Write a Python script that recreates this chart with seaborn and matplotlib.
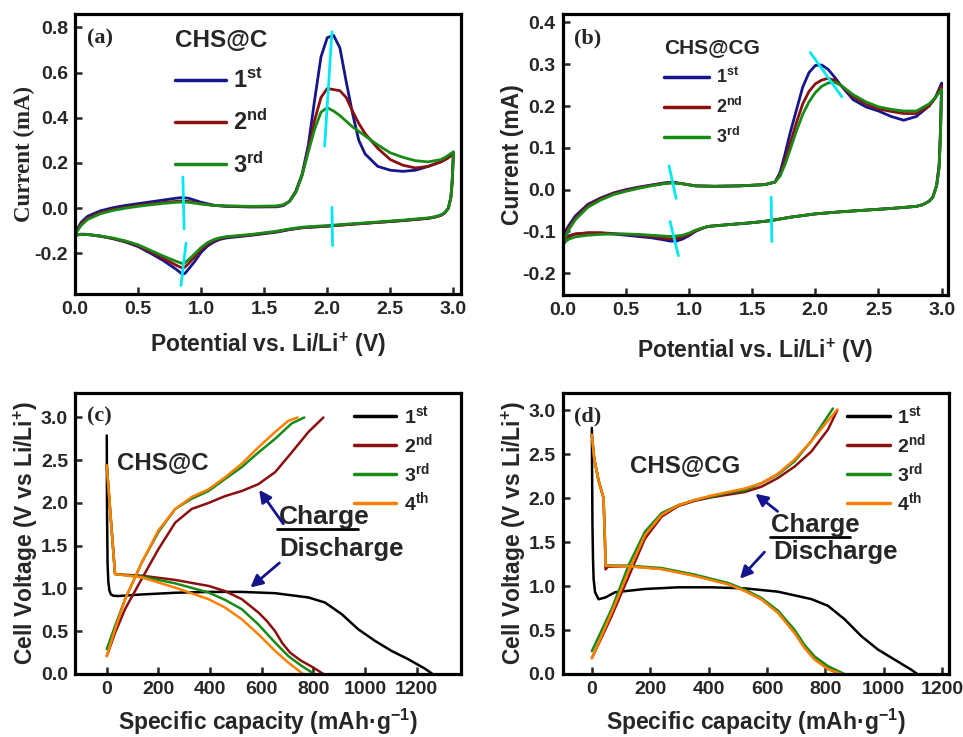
import numpy as np
import pandas as pd
import matplotlib
matplotlib.use("Agg")
import matplotlib.pyplot as plt
from matplotlib.lines import Line2D
import seaborn as sns

# ---------------- data: panel (a) CV, CHS@C ----------------
CYCLES_CV = ["1st", "2nd", "3rd"]
E_A_AN = [0.0, 0.02, 0.05, 0.1, 0.2, 0.3, 0.4, 0.5, 0.6, 0.7, 0.8, 0.85, 0.9, 1.0, 1.1, 1.2, 1.4, 1.6, 1.65,
          1.7, 1.75, 1.8, 1.85, 1.9, 1.95, 2.0, 2.05, 2.1, 2.15, 2.2, 2.25, 2.3, 2.4, 2.5, 2.6, 2.7, 2.8, 2.9, 2.95, 3.0]
I_A1_AN = [-0.12, -0.09, -0.062, -0.036, -0.012, 0.002, 0.012, 0.02, 0.028, 0.036, 0.044, 0.047, 0.044, 0.026,
           0.013, 0.008, 0.005, 0.006, 0.011, 0.03, 0.075, 0.15, 0.28, 0.48, 0.67, 0.755, 0.765, 0.71, 0.56,
           0.42, 0.30, 0.24, 0.185, 0.168, 0.163, 0.168, 0.185, 0.205, 0.22, 0.245]
I_A2_AN = [-0.12, -0.095, -0.068, -0.045, -0.02, -0.006, 0.004, 0.012, 0.019, 0.025, 0.03, 0.032, 0.03, 0.02,
           0.012, 0.009, 0.007, 0.008, 0.013, 0.03, 0.07, 0.145, 0.26, 0.39, 0.49, 0.53, 0.525, 0.52, 0.49,
           0.43, 0.375, 0.33, 0.265, 0.215, 0.19, 0.178, 0.185, 0.205, 0.22, 0.24]
I_A3_AN = [-0.12, -0.1, -0.075, -0.05, -0.025, -0.01, 0.0, 0.008, 0.015, 0.021, 0.026, 0.027, 0.026, 0.018,
           0.012, 0.01, 0.008, 0.01, 0.015, 0.03, 0.07, 0.145, 0.25, 0.35, 0.425, 0.445, 0.43, 0.41, 0.385,
           0.36, 0.34, 0.32, 0.28, 0.245, 0.225, 0.21, 0.205, 0.215, 0.23, 0.25]
E_A_CA = [2.99, 2.98, 2.96, 2.93, 2.9, 2.85, 2.8, 2.6, 2.4, 2.2, 2.0, 1.8, 1.7, 1.6, 1.4, 1.2, 1.15, 1.1, 1.05,
          1.0, 0.95, 0.9, 0.87, 0.85, 0.8, 0.7, 0.6, 0.5, 0.4, 0.3, 0.2, 0.1, 0.05, 0.0]
I_A1_CA = [0.12, 0.05, 0.0, -0.022, -0.032, -0.04, -0.045, -0.055, -0.063, -0.071, -0.08, -0.087, -0.095,
           -0.106, -0.12, -0.132, -0.138, -0.15, -0.168, -0.195, -0.235, -0.27, -0.29, -0.292, -0.27, -0.232,
           -0.2, -0.17, -0.15, -0.135, -0.124, -0.116, -0.115, -0.12]
I_A2_CA = [0.11, 0.045, 0.0, -0.022, -0.032, -0.04, -0.045, -0.055, -0.063, -0.071, -0.079, -0.086, -0.094,
           -0.104, -0.118, -0.128, -0.134, -0.144, -0.16, -0.183, -0.215, -0.245, -0.262, -0.265, -0.252,
           -0.222, -0.193, -0.166, -0.148, -0.134, -0.124, -0.117, -0.116, -0.12]
I_A3_CA = [0.12, 0.05, 0.0, -0.02, -0.03, -0.038, -0.043, -0.053, -0.061, -0.069, -0.077, -0.084, -0.092,
           -0.102, -0.116, -0.126, -0.131, -0.139, -0.153, -0.174, -0.202, -0.228, -0.242, -0.245, -0.235,
           -0.212, -0.187, -0.162, -0.145, -0.132, -0.123, -0.117, -0.116, -0.12]

# ---------------- data: panel (b) CV, CHS@CG ----------------
E_B_AN = [0.0, 0.02, 0.05, 0.1, 0.2, 0.3, 0.4, 0.5, 0.6, 0.7, 0.8, 0.87, 0.95, 1.05, 1.2, 1.4, 1.6, 1.68, 1.72,
          1.76, 1.8, 1.85, 1.9, 1.95, 2.0, 2.05, 2.1, 2.15, 2.2, 2.3, 2.4, 2.5, 2.6, 2.7, 2.8, 2.9, 2.95, 3.0]
I_B1_AN = [-0.125, -0.1, -0.085, -0.063, -0.035, -0.02, -0.008, 0.0, 0.006, 0.011, 0.016, 0.018, 0.014, 0.009,
           0.008, 0.009, 0.012, 0.018, 0.04, 0.085, 0.135, 0.19, 0.245, 0.28, 0.297, 0.298, 0.288, 0.27, 0.25,
           0.215, 0.198, 0.188, 0.175, 0.166, 0.175, 0.2, 0.22, 0.255]
I_B2_AN = [-0.13, -0.108, -0.09, -0.068, -0.038, -0.022, -0.01, -0.002, 0.005, 0.01, 0.015, 0.017, 0.014,
           0.009, 0.008, 0.009, 0.012, 0.018, 0.035, 0.07, 0.11, 0.16, 0.205, 0.235, 0.253, 0.262, 0.266, 0.262,
           0.25, 0.222, 0.205, 0.193, 0.187, 0.182, 0.182, 0.2, 0.22, 0.248]
I_B3_AN = [-0.135, -0.115, -0.095, -0.072, -0.042, -0.025, -0.012, -0.004, 0.003, 0.009, 0.014, 0.016, 0.014,
           0.009, 0.008, 0.009, 0.012, 0.018, 0.032, 0.06, 0.095, 0.14, 0.18, 0.21, 0.232, 0.247, 0.255, 0.257,
           0.25, 0.227, 0.21, 0.198, 0.192, 0.188, 0.188, 0.205, 0.22, 0.24]
E_B_CA = [2.99, 2.98, 2.96, 2.93, 2.9, 2.85, 2.8, 2.6, 2.4, 2.2, 2.0, 1.8, 1.65, 1.5, 1.3, 1.15, 1.1, 1.05, 1.0,
          0.95, 0.9, 0.85, 0.8, 0.7, 0.6, 0.5, 0.4, 0.3, 0.2, 0.1, 0.05, 0.02, 0.0]
I_B1_CA = [0.14, 0.06, 0.01, -0.018, -0.028, -0.036, -0.04, -0.045, -0.049, -0.053, -0.058, -0.066, -0.074,
           -0.079, -0.084, -0.088, -0.093, -0.1, -0.11, -0.118, -0.123, -0.123, -0.12, -0.115, -0.112, -0.109,
           -0.106, -0.104, -0.104, -0.106, -0.11, -0.118, -0.125]
I_B2_CA = [0.13, 0.055, 0.01, -0.018, -0.028, -0.036, -0.04, -0.045, -0.049, -0.053, -0.058, -0.066, -0.074,
           -0.079, -0.084, -0.088, -0.093, -0.099, -0.107, -0.113, -0.117, -0.118, -0.116, -0.112, -0.109,
           -0.107, -0.105, -0.103, -0.103, -0.106, -0.112, -0.12, -0.13]
I_B3_CA = [0.12, 0.05, 0.008, -0.018, -0.028, -0.036, -0.04, -0.045, -0.049, -0.053, -0.058, -0.066, -0.074,
           -0.079, -0.084, -0.088, -0.092, -0.097, -0.104, -0.109, -0.111, -0.112, -0.111, -0.109, -0.107,
           -0.106, -0.106, -0.107, -0.109, -0.113, -0.118, -0.125, -0.135]

# ---------------- data: panel (c) GCD, CHS@C ----------------
CYCLES_GCD = ["1st", "2nd", "3rd", "4th"]
Q_C1_DIS = [0, 1, 3, 6, 10, 16, 26, 45, 135, 265, 394, 523, 652, 781, 845, 910, 974, 1039, 1103, 1168, 1232, 1262]
V_C1_DIS = [2.79, 1.9, 1.3, 1.08, 0.98, 0.93, 0.915, 0.912, 0.93, 0.95, 0.96, 0.96, 0.945, 0.895, 0.836, 0.70,
            0.523, 0.387, 0.27, 0.172, 0.063, 0.0]
Q_C2_DIS = [0, 16, 32, 40, 135, 265, 394, 458, 523, 587, 620, 652, 680, 710, 750, 800, 839]
V_C2_DIS = [2.44, 1.8, 1.17, 1.165, 1.15, 1.10, 1.03, 0.97, 0.875, 0.72, 0.62, 0.50, 0.36, 0.25, 0.16, 0.075, 0.0]
Q_C3_DIS = [0, 16, 32, 40, 135, 265, 394, 458, 523, 587, 652, 703, 755, 804]
V_C3_DIS = [2.44, 1.8, 1.17, 1.165, 1.14, 1.06, 0.953, 0.867, 0.758, 0.58, 0.367, 0.21, 0.094, 0.0]
Q_C4_DIS = [0, 16, 32, 40, 135, 265, 394, 458, 523, 587, 652, 703, 760]
V_C4_DIS = [2.44, 1.8, 1.17, 1.165, 1.13, 1.01, 0.875, 0.777, 0.64, 0.465, 0.27, 0.133, 0.0]
Q_C2_CHG = [0, 32, 71, 135, 200, 265, 329, 394, 458, 523, 587, 652, 716, 781, 839]
V_C2_CHG = [0.21, 0.48, 0.76, 1.11, 1.46, 1.77, 1.93, 2.0, 2.08, 2.14, 2.22, 2.36, 2.59, 2.83, 3.0]
Q_C3_CHG = [0, 32, 71, 135, 200, 265, 329, 394, 458, 523, 587, 652, 716, 765]
V_C3_CHG = [0.29, 0.56, 0.875, 1.30, 1.66, 1.93, 2.05, 2.14, 2.28, 2.42, 2.59, 2.75, 2.93, 3.0]
Q_C4_CHG = [0, 32, 71, 135, 200, 265, 329, 394, 458, 523, 587, 652, 703, 739]
V_C4_CHG = [0.21, 0.52, 0.875, 1.30, 1.68, 1.93, 2.07, 2.16, 2.30, 2.46, 2.65, 2.83, 2.96, 3.0]

# ---------------- data: panel (d) GCD, CHS@CG ----------------
Q_D1_DIS = [0, 1, 2, 4, 6, 11, 23, 46, 80, 182, 296, 410, 524, 638, 752, 809, 866, 923, 980, 1037, 1094, 1115]
V_D1_DIS = [2.8, 2.2, 1.69, 1.3, 1.08, 0.93, 0.85, 0.87, 0.93, 0.967, 0.986, 0.986, 0.974, 0.936, 0.852, 0.776,
            0.623, 0.432, 0.279, 0.164, 0.05, 0.0]
Q_D2_DIS = [0, 8, 23, 40, 45, 47, 55, 125, 239, 353, 467, 524, 581, 638, 695, 729, 763, 809, 850]
V_D2_DIS = [2.72, 2.45, 2.2, 2.0, 1.5, 1.19, 1.22, 1.227, 1.196, 1.12, 1.024, 0.948, 0.852, 0.70, 0.47, 0.30,
            0.17, 0.06, 0.0]
Q_D3_DIS = [0, 8, 23, 40, 45, 47, 55, 125, 239, 353, 467, 524, 581, 638, 695, 729, 763, 809, 865]
V_D3_DIS = [2.72, 2.45, 2.2, 2.0, 1.5, 1.23, 1.235, 1.232, 1.205, 1.13, 1.035, 0.96, 0.865, 0.72, 0.50, 0.33,
            0.2, 0.09, 0.0]
Q_D4_DIS = [0, 8, 23, 40, 45, 47, 55, 125, 239, 353, 467, 524, 581, 638, 695, 729, 763, 809, 856]
V_D4_DIS = [2.72, 2.45, 2.2, 2.0, 1.5, 1.23, 1.23, 1.225, 1.193, 1.115, 1.02, 0.945, 0.848, 0.695, 0.465,
            0.295, 0.165, 0.055, 0.0]
Q_D2_CHG = [0, 68, 125, 182, 239, 296, 353, 410, 467, 524, 581, 638, 695, 752, 809, 841]
V_D2_CHG = [0.18, 0.66, 1.10, 1.54, 1.79, 1.91, 1.97, 2.01, 2.04, 2.07, 2.13, 2.23, 2.36, 2.53, 2.78, 3.0]
Q_D3_CHG = [0, 68, 125, 182, 239, 296, 353, 410, 467, 524, 581, 638, 695, 752, 798, 826]
V_D3_CHG = [0.26, 0.74, 1.23, 1.62, 1.83, 1.92, 1.98, 2.02, 2.06, 2.09, 2.17, 2.27, 2.42, 2.65, 2.88, 3.02]
Q_D4_CHG = [0, 68, 125, 182, 239, 296, 353, 410, 467, 524, 581, 638, 695, 752, 809, 841]
V_D4_CHG = [0.18, 0.70, 1.16, 1.58, 1.81, 1.92, 1.98, 2.03, 2.07, 2.11, 2.17, 2.28, 2.44, 2.65, 2.88, 3.01]

# annotation guide segments (cyan)
CYAN_A = [((0.855, 0.138), (0.865, -0.092)), ((0.88, -0.155), (0.84, -0.343)),
          ((2.037, 0.781), (1.979, 0.274)), ((2.037, 0.004), (2.042, -0.166))]
CYAN_B = [((0.842, 0.057), (0.898, -0.021)), ((0.85, -0.076), (0.916, -0.158)),
          ((1.65, -0.018), (1.656, -0.124)), ((1.96, 0.328), (2.21, 0.222))]

COL_CV = ["#15158c", "#8b1010", "#178a17"]
COL_GCD = ["#000000", "#8b1010", "#178a17", "#ff8000"]
CYAN = "#00e8f0"
NAVY = "#14148c"

# ---------------- style ----------------
sns.set_style("white")
plt.rcParams.update({
    "font.family": ["Liberation Sans", "DejaVu Sans"],
    "font.weight": "bold",
    "axes.labelweight": "bold",
    "axes.unicode_minus": False,
    "mathtext.fontset": "custom",
    "mathtext.rm": "Liberation Sans:bold",
    "mathtext.bf": "Liberation Sans:bold",
    "mathtext.it": "Liberation Sans:bold",
    "mathtext.default": "bf",
    "axes.edgecolor": "black",
    "axes.linewidth": 2.3,
})

fig = plt.figure(figsize=(9.63, 7.37), dpi=100)
ax_a = fig.add_axes([0.0779, 0.6011, 0.4008, 0.3800])
ax_b = fig.add_axes([0.5843, 0.5997, 0.4001, 0.3813])
ax_c = fig.add_axes([0.0779, 0.0855, 0.4008, 0.3817])
ax_d = fig.add_axes([0.5843, 0.0855, 0.4015, 0.3817])

SUP = {"1st": r"$1^{st}$", "2nd": r"$2^{nd}$", "3rd": r"$3^{rd}$", "4th": r"$4^{th}$"}


def style_axes(ax, xlim, ylim, xticks, yticks, xfmt, yfmt):
    ax.set_xlim(*xlim)
    ax.set_ylim(*ylim)
    ax.set_xticks(xticks)
    ax.set_yticks(yticks)
    ax.set_xticklabels([xfmt(v) for v in xticks])
    ax.set_yticklabels([yfmt(v) for v in yticks])
    ax.tick_params(direction="in", length=5, width=1.8, labelsize=14, pad=5,
                   bottom=True, left=True, top=False, right=False)
    for s in ax.spines.values():
        s.set_linewidth(2.3)
        s.set_color("black")


def cv_frame(an_e, an_list, ca_e, ca_list):
    rows = []
    for cyc, ia, ic in zip(CYCLES_CV, an_list, ca_list):
        e = list(an_e) + list(ca_e)
        i = list(ia) + list(ic)
        rows.append(pd.DataFrame({"E": e, "I": i, "cycle": cyc}))
    return pd.concat(rows, ignore_index=True)


def gcd_frame(dis_q, dis_v, chg_q, chg_v):
    rows = []
    for cyc, q, v in zip(CYCLES_GCD, dis_q, dis_v):
        rows.append(pd.DataFrame({"Q": q, "V": v, "cycle": cyc, "branch": "dis"}))
    for cyc, q, v in zip(CYCLES_GCD[1:], chg_q, chg_v):
        rows.append(pd.DataFrame({"Q": q, "V": v, "cycle": cyc, "branch": "chg"}))
    return pd.concat(rows, ignore_index=True)


# ---------------- (a) ----------------
df_a = cv_frame(E_A_AN, [I_A1_AN, I_A2_AN, I_A3_AN], E_A_CA, [I_A1_CA, I_A2_CA, I_A3_CA])
sns.lineplot(data=df_a, x="E", y="I", hue="cycle", hue_order=CYCLES_CV, palette=COL_CV,
             sort=False, estimator=None, legend=False, lw=2.0, ax=ax_a)
for (p0, p1) in CYAN_A:
    ax_a.plot([p0[0], p1[0]], [p0[1], p1[1]], color=CYAN, lw=2)
style_axes(ax_a, (0, 3.06), (-0.38, 0.86), [0, 0.5, 1.0, 1.5, 2.0, 2.5, 3.0],
           [-0.2, 0.0, 0.2, 0.4, 0.6, 0.8], lambda v: f"{v:.1f}", lambda v: f"{v:.1f}")
ax_a.set_xlabel(r"Potential vs. Li/Li$^{+}$ (V)", fontsize=16.5, labelpad=9)
ax_a.set_ylabel("Current (mA)", fontsize=16.5, family="Liberation Serif", labelpad=-0.5)
ax_a.text(0.03, 0.948, "(a)", transform=ax_a.transAxes, family="Liberation Serif",
          fontsize=16, fontweight="bold", va="top", ha="left")
h_a = [Line2D([], [], color=c, lw=2.5) for c in COL_CV]
ax_a.legend(h_a, [SUP[c] for c in CYCLES_CV], loc="upper left", bbox_to_anchor=(0.26, 0.945),
            frameon=False, fontsize=17, handlelength=2.15, handletextpad=0.3, labelspacing=0.7,
            borderpad=0, borderaxespad=0, title="CHS@C", alignment="left",
            title_fontproperties={"size": 17.5, "weight": "bold"})

# ---------------- (b) ----------------
df_b = cv_frame(E_B_AN, [I_B1_AN, I_B2_AN, I_B3_AN], E_B_CA, [I_B1_CA, I_B2_CA, I_B3_CA])
sns.lineplot(data=df_b, x="E", y="I", hue="cycle", hue_order=CYCLES_CV, palette=COL_CV,
             sort=False, estimator=None, legend=False, lw=2.0, ax=ax_b)
for (p0, p1) in CYAN_B:
    ax_b.plot([p0[0], p1[0]], [p0[1], p1[1]], color=CYAN, lw=2)
style_axes(ax_b, (0, 3.05), (-0.252, 0.42), [0, 0.5, 1.0, 1.5, 2.0, 2.5, 3.0],
           [-0.2, -0.1, 0.0, 0.1, 0.2, 0.3, 0.4], lambda v: f"{v:.1f}", lambda v: f"{v:.1f}")
ax_b.set_xlabel(r"Potential vs. Li/Li$^{+}$ (V)", fontsize=16.5, labelpad=13)
ax_b.set_ylabel("Current (mA)", fontsize=16.5, labelpad=-1)
ax_b.text(0.03, 0.948, "(b)", transform=ax_b.transAxes, family="Liberation Serif",
          fontsize=16, fontweight="bold", va="top", ha="left")
h_b = [Line2D([], [], color=c, lw=2.5) for c in COL_CV]
ax_b.legend(h_b, [SUP[c] for c in CYCLES_CV], loc="upper left", bbox_to_anchor=(0.262, 0.915),
            frameon=False, fontsize=13, handlelength=2.5, handletextpad=0.4, labelspacing=0.55,
            borderpad=0, borderaxespad=0, title="CHS@CG", alignment="left",
            title_fontproperties={"size": 15, "weight": "bold"})

# ---------------- (c) ----------------
df_c = gcd_frame([Q_C1_DIS, Q_C2_DIS, Q_C3_DIS, Q_C4_DIS], [V_C1_DIS, V_C2_DIS, V_C3_DIS, V_C4_DIS],
                 [Q_C2_CHG, Q_C3_CHG, Q_C4_CHG], [V_C2_CHG, V_C3_CHG, V_C4_CHG])
sns.lineplot(data=df_c, x="Q", y="V", hue="cycle", hue_order=CYCLES_GCD, palette=COL_GCD, units="branch",
             sort=False, estimator=None, legend=False, lw=1.8, ax=ax_c)
style_axes(ax_c, (-123, 1372), (0, 3.29), [0, 200, 400, 600, 800, 1000, 1200],
           [0.0, 0.5, 1.0, 1.5, 2.0, 2.5, 3.0], lambda v: f"{v:d}", lambda v: f"{v:.1f}")
ax_c.set_xlabel(r"Specific capacity (mAh·g$^{-1}$)", fontsize=16.5, labelpad=6.5)
ax_c.set_ylabel(r"Cell Voltage (V vs Li/Li$^{+}$)", fontsize=16.5, labelpad=0.5)
ax_c.text(0.03, 0.952, "(c)", transform=ax_c.transAxes, family="Liberation Serif",
          fontsize=16, fontweight="bold", va="top", ha="left")
ax_c.text(40, 2.38, "CHS@C", fontsize=17.3, fontweight="bold", ha="left", va="baseline")
ax_c.text(667, 1.75, "Charge", fontsize=19, fontweight="bold", ha="left", va="baseline")
ax_c.plot([660, 975], [1.695, 1.695], color="black", lw=2)
ax_c.text(667, 1.38, "Discharge", fontsize=18.5, fontweight="bold", ha="left", va="baseline")
ax_c.annotate("", xy=(584, 2.18), xytext=(690, 1.73),
              arrowprops=dict(arrowstyle="-|>", color=NAVY, lw=2, mutation_scale=18))
ax_c.annotate("", xy=(548, 0.99), xytext=(677, 1.32),
              arrowprops=dict(arrowstyle="-|>", color=NAVY, lw=2, mutation_scale=18))
h_c = [Line2D([], [], color=c, lw=2.5) for c in COL_GCD]
ax_c.legend(h_c, [SUP[c] for c in CYCLES_GCD], loc="upper left", bbox_to_anchor=(0.722, 0.955),
            frameon=False, fontsize=14, handlelength=2.2, handletextpad=0.4, labelspacing=0.26,
            borderpad=0, borderaxespad=0)

# ---------------- (d) ----------------
df_d = gcd_frame([Q_D1_DIS, Q_D2_DIS, Q_D3_DIS, Q_D4_DIS], [V_D1_DIS, V_D2_DIS, V_D3_DIS, V_D4_DIS],
                 [Q_D2_CHG, Q_D3_CHG, Q_D4_CHG], [V_D2_CHG, V_D3_CHG, V_D4_CHG])
sns.lineplot(data=df_d, x="Q", y="V", hue="cycle", hue_order=CYCLES_GCD, palette=COL_GCD, units="branch",
             sort=False, estimator=None, legend=False, lw=1.8, ax=ax_d)
style_axes(ax_d, (-100, 1225), (0, 3.2), [0, 200, 400, 600, 800, 1000, 1200],
           [0.0, 0.5, 1.0, 1.5, 2.0, 2.5, 3.0], lambda v: f"{v:d}", lambda v: f"{v:.1f}")
ax_d.set_xlabel(r"Specific capacity (mAh·g$^{-1}$)", fontsize=16.5, labelpad=6.5)
ax_d.set_ylabel(r"Cell Voltage (V vs Li/Li$^{+}$)", fontsize=16.5, labelpad=0)
ax_d.text(0.03, 0.952, "(d)", transform=ax_d.transAxes, family="Liberation Serif",
          fontsize=16, fontweight="bold", va="top", ha="left")
ax_d.text(131, 2.29, "CHS@CG", fontsize=17.3, fontweight="bold", ha="left", va="baseline")
ax_d.text(615, 1.62, "Charge", fontsize=18.5, fontweight="bold", ha="left", va="baseline")
ax_d.plot([612, 885], [1.56, 1.56], color="black", lw=2)
ax_d.text(621, 1.31, "Discharge", fontsize=18.5, fontweight="bold", ha="left", va="baseline")
ax_d.annotate("", xy=(553, 2.07), xytext=(644, 1.83),
              arrowprops=dict(arrowstyle="-|>", color=NAVY, lw=2, mutation_scale=18))
ax_d.annotate("", xy=(501, 1.06), xytext=(598, 1.41),
              arrowprops=dict(arrowstyle="-|>", color=NAVY, lw=2, mutation_scale=18))
h_d = [Line2D([], [], color=c, lw=2.5) for c in COL_GCD]
ax_d.legend(h_d, [SUP[c] for c in CYCLES_GCD], loc="upper left", bbox_to_anchor=(0.735, 0.955),
            frameon=False, fontsize=14, handlelength=2.2, handletextpad=0.4, labelspacing=0.26,
            borderpad=0, borderaxespad=0)

fig.savefig("out.png", dpi=100)
